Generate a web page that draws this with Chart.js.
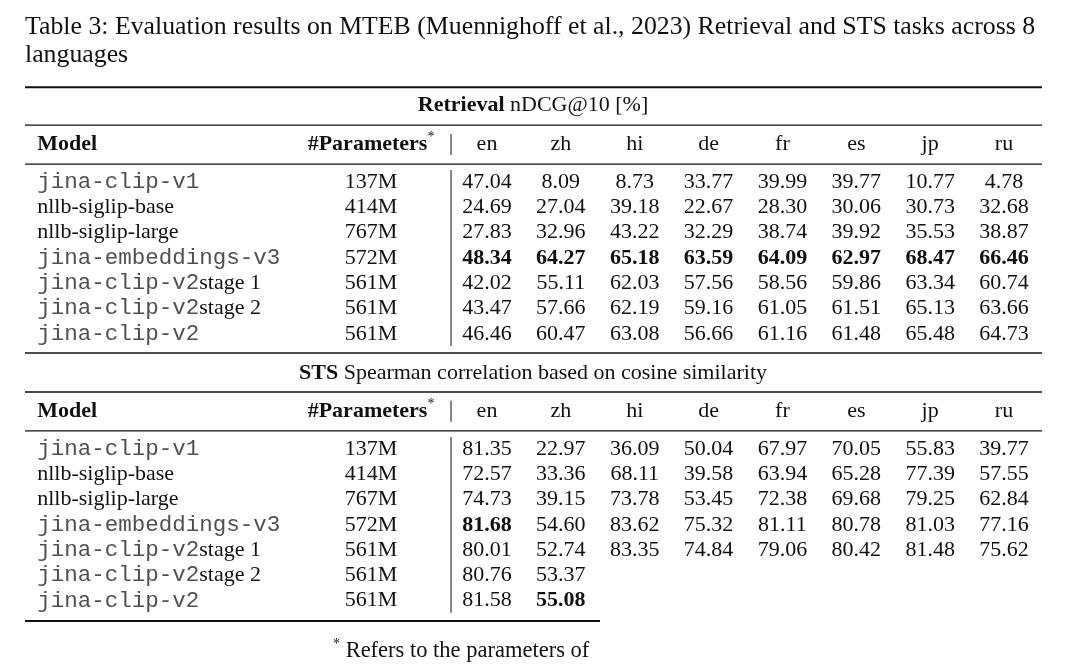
<!DOCTYPE html>
<html>
<head>
<meta charset="utf-8">
<script src="https://cdn.jsdelivr.net/npm/chart.js@4.4.0/dist/chart.umd.min.js"></script>
<style>
  body { margin: 0; background: #fff; }
  #wrap { width: 1080px; height: 669px; }
</style>
</head>
<body>
<div id="wrap"><canvas id="table"></canvas></div>
<script>
const languages = ['en', 'zh', 'hi', 'de', 'fr', 'es', 'jp', 'ru']
const modelNames = ['jina-clip-v1', 'nllb-siglip-base', 'nllb-siglip-large', 'jina-embeddings-v3',
  'jina-clip-v2', 'jina-clip-v2', 'jina-clip-v2']
const modelSuffix = ['', '', '', '', 'stage 1', 'stage 2', '']
const modelIsCode = [true, false, false, true, true, true, true]
const parameters = ['137M', '414M', '767M', '572M', '561M', '561M', '561M']

const retrievalScores = [
  [47.04, 8.09, 8.73, 33.77, 39.99, 39.77, 10.77, 4.78],
  [24.69, 27.04, 39.18, 22.67, 28.30, 30.06, 30.73, 32.68],
  [27.83, 32.96, 43.22, 32.29, 38.74, 39.92, 35.53, 38.87],
  [48.34, 64.27, 65.18, 63.59, 64.09, 62.97, 68.47, 66.46],
  [42.02, 55.11, 62.03, 57.56, 58.56, 59.86, 63.34, 60.74],
  [43.47, 57.66, 62.19, 59.16, 61.05, 61.51, 65.13, 63.66],
  [46.46, 60.47, 63.08, 56.66, 61.16, 61.48, 65.48, 64.73]
]
// [row, col] of bold cells
const retrievalBold = [[3, 0], [3, 1], [3, 2], [3, 3], [3, 4], [3, 5], [3, 6], [3, 7]]

// the last two rows are smeared out in the picture past "zh"
const stsScores = [
  [81.35, 22.97, 36.09, 50.04, 67.97, 70.05, 55.83, 39.77],
  [72.57, 33.36, 68.11, 39.58, 63.94, 65.28, 77.39, 57.55],
  [74.73, 39.15, 73.78, 53.45, 72.38, 69.68, 79.25, 62.84],
  [81.68, 54.60, 83.62, 75.32, 81.11, 80.78, 81.03, 77.16],
  [80.01, 52.74, 83.35, 74.84, 79.06, 80.42, 81.48, 75.62],
  [80.76, 53.37, null, null, null, null, null, null],
  [81.58, 55.08, null, null, null, null, null, null]
]
const stsBold = [[3, 0], [6, 1]]

// ---- layout (column / row units) ----
const SERIF = '"Liberation Serif", "DejaVu Serif", serif'
const MONO = '"Liberation Mono", "DejaVu Sans Mono", monospace'
const numSize = 22
const colModel = -6.09
const colParams = -1.57
const sectionOffset = [0, 10.55]

function serif (t, size, bold, dy) {
  return { t: t, font: (bold ? 'bold ' : '') + size + 'px ' + SERIF, color: '#111', dy: dy || 0 }
}
function mono (t, size) {
  return { t: t, font: size + 'px ' + MONO, color: '#505050', dy: 0 }
}

function sectionPoints (scores, bold, off) {
  let pts = []
  scores.forEach((row, r) => {
    row.forEach((v, c) => {
      if (v === null) return
      let isBold = bold.some(b => b[0] === r && b[1] === c)
      pts.push({ x: c, y: off + r, parts: [serif(v.toFixed(2), numSize, isBold)] })
    })
  })
  return pts
}

function leftPoints (off) {
  let pts = []
  modelNames.forEach((m, r) => {
    let parts = [modelIsCode[r] ? mono(m, 22.5) : serif(m, numSize, false)]
    if (modelSuffix[r]) parts.push(serif(modelSuffix[r], numSize, false))
    pts.push({ x: colModel, y: off + r, parts: parts })
  })
  pts.push({ x: colModel, y: off - 1.5, parts: [serif('Model', numSize, true)] })
  return pts
}

function centerPoints (off) {
  let pts = parameters.map((p, r) => ({ x: colParams, y: off + r, parts: [serif(p, numSize, false)] }))
  pts.push({ x: colParams, y: off - 1.5, parts: [serif('#Parameters', numSize, true), serif('*', 14, false, -7)] })
  languages.forEach((l, c) => {
    pts.push({ x: c, y: off - 1.5, parts: [serif(l, numSize, false)] })
  })
  return pts
}

const titles = [
  { x: 0.623, y: sectionOffset[0] - 3.02, parts: [serif('Retrieval', numSize, true), serif(' nDCG@10 [%]', numSize, false)] },
  { x: 0.623, y: sectionOffset[1] - 3.0, parts: [serif('STS', numSize, true), serif(' Spearman correlation based on cosine similarity', numSize, false)] }
]

const captionLines = [
  { x: -6.255, y: -6.12, parts: [serif('Table 3: Evaluation results on MTEB (Muennighoff et al., 2023) Retrieval and STS tasks across 8', 25.8, false)] },
  { x: -6.255, y: -5.03, parts: [serif('languages', 25.8, false)] },
  { x: -2.085, y: 18.54, parts: [serif('*', 14, false, -7), serif(' Refers to the parameters of', 22.5, false)] }
]

// horizontal rules [y, x1, x2, width], vertical bars [x, y1, y2]
const rules = [
  [-3.75, -6.255, 7.514, 2],
  [-2.25, -6.255, 7.514, 1.3],
  [-0.71, -6.255, 7.514, 1.3],
  [6.76, -6.255, 7.514, 1.5],
  [sectionOffset[1] - 2.25, -6.255, 7.514, 1.3],
  [sectionOffset[1] - 0.71, -6.255, 7.514, 1.3],
  [sectionOffset[1] + 6.8, -6.255, 1.53, 2]
]
const bars = []
sectionOffset.forEach(off => {
  bars.push([-0.487, off - 1.9, off - 1.07])
  bars.push([-0.487, off - 0.47, off + 6.48])
})

function drawParts (ctx, parts, x, y, align) {
  let widths = parts.map(p => { ctx.font = p.font; return ctx.measureText(p.t).width })
  let total = widths.reduce((a, b) => a + b, 0)
  let cx = align === 'left' ? x : x - total / 2
  parts.forEach((p, i) => {
    ctx.font = p.font
    ctx.fillStyle = p.color
    ctx.textBaseline = 'middle'
    ctx.textAlign = 'left'
    ctx.fillText(p.t, cx, y + p.dy)
    cx += widths[i]
  })
}

const tableLines = {
  id: 'tableLines',
  beforeDatasetsDraw (chart) {
    const ctx = chart.ctx
    const xs = chart.scales.x
    const ys = chart.scales.y
    ctx.save()
    ctx.strokeStyle = '#111'
    rules.forEach(r => {
      ctx.lineWidth = r[3]
      ctx.beginPath()
      ctx.moveTo(xs.getPixelForValue(r[1]), ys.getPixelForValue(r[0]))
      ctx.lineTo(xs.getPixelForValue(r[2]), ys.getPixelForValue(r[0]))
      ctx.stroke()
    })
    ctx.lineWidth = 1.2
    ctx.strokeStyle = '#333'
    bars.forEach(b => {
      ctx.beginPath()
      ctx.moveTo(xs.getPixelForValue(b[0]), ys.getPixelForValue(b[1]))
      ctx.lineTo(xs.getPixelForValue(b[0]), ys.getPixelForValue(b[2]))
      ctx.stroke()
    })
    ctx.restore()
  }
}

const tableText = {
  id: 'tableText',
  afterDatasetsDraw (chart) {
    const ctx = chart.ctx
    ctx.save()
    chart.data.datasets.forEach((ds, i) => {
      const meta = chart.getDatasetMeta(i)
      meta.data.forEach((pt, j) => {
        drawParts(ctx, ds.data[j].parts, pt.x, pt.y, ds.align)
      })
    })
    ctx.restore()
  }
}

let datasets = [
  { label: 'retrieval', data: sectionPoints(retrievalScores, retrievalBold, sectionOffset[0]), align: 'center' },
  { label: 'sts', data: sectionPoints(stsScores, stsBold, sectionOffset[1]), align: 'center' },
  { label: 'models', data: leftPoints(sectionOffset[0]).concat(leftPoints(sectionOffset[1])), align: 'left' },
  { label: 'headers', data: centerPoints(sectionOffset[0]).concat(centerPoints(sectionOffset[1])), align: 'center' },
  { label: 'titles', data: titles, align: 'center' },
  { label: 'caption', data: captionLines, align: 'left' }
]
datasets.forEach(d => { d.pointRadius = 0; d.pointHoverRadius = 0 })

new Chart(document.getElementById('table'), {
  type: 'scatter',
  data: { datasets: datasets },
  options: {
    responsive: true,
    maintainAspectRatio: false,
    animation: false,
    events: [],
    layout: { padding: 0 },
    plugins: { legend: { display: false }, tooltip: { enabled: false } },
    scales: {
      x: { type: 'linear', display: false, min: -487 / 73.86, max: 593 / 73.86 },
      y: { type: 'linear', display: false, reverse: true, min: -182 / 25.3, max: 487 / 25.3 }
    }
  },
  plugins: [tableLines, tableText]
})
</script>
</body>
</html>
